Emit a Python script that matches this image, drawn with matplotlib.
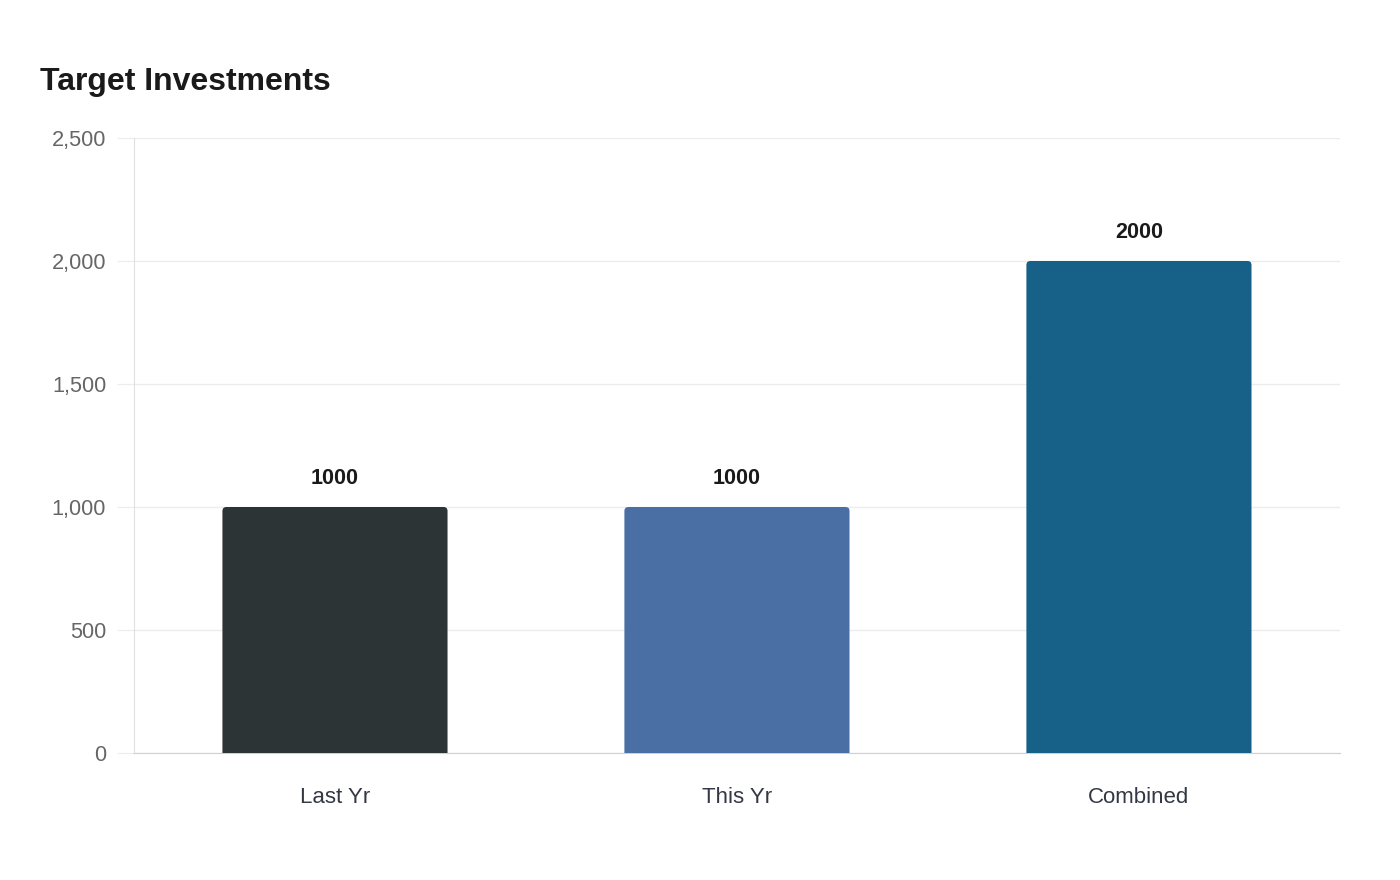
import matplotlib
matplotlib.use("Agg")
import matplotlib.pyplot as plt
from matplotlib.patches import PathPatch
from matplotlib.path import Path
from matplotlib.ticker import FuncFormatter

plt.rcParams['font.family'] = ['Liberation Sans', 'DejaVu Sans']

# data
categories = ['Last Yr', 'This Yr', 'Combined']
values = [1000, 1000, 2000]
colors = ['#2d3436', '#4a6fa5', '#176087']

fig = plt.figure(figsize=(14, 8.8), dpi=100)
ax = fig.add_axes([0.0957, 0.1443, 0.8614, 0.6989])

x = list(range(len(categories)))
bar_w = 0.56
bars = ax.bar(x, values, width=bar_w, color=colors, zorder=3)

ax.set_xlim(-0.5, len(categories) - 0.5)
ax.set_ylim(0, 2500)
ax.set_yticks([0, 500, 1000, 1500, 2000, 2500])
ax.yaxis.set_major_formatter(FuncFormatter(lambda v, p: f"{int(v):,}"))
ax.set_xticks(x)
ax.set_xticklabels(categories)

# rounded top corners: replace the plain rectangles
fig.canvas.draw()
px_x = (ax.get_xlim()[1] - ax.get_xlim()[0]) / ax.bbox.width
px_y = (ax.get_ylim()[1] - ax.get_ylim()[0]) / ax.bbox.height
rx, ry = 4 * px_x, 4 * px_y
for b in bars:
    x0, y0 = b.get_x(), b.get_y()
    x1, y1 = x0 + b.get_width(), y0 + b.get_height()
    verts = [(x0, y0), (x0, y1 - ry), (x0, y1), (x0 + rx, y1),
             (x1 - rx, y1), (x1, y1), (x1, y1 - ry), (x1, y0), (x0, y0)]
    codes = [Path.MOVETO, Path.LINETO, Path.CURVE3, Path.CURVE3,
             Path.LINETO, Path.CURVE3, Path.CURVE3, Path.LINETO, Path.CLOSEPOLY]
    ax.add_patch(PathPatch(Path(verts, codes), facecolor=b.get_facecolor(),
                           edgecolor='none', zorder=3))
    b.remove()

for xi, v in zip(x, values):
    ax.annotate(str(v), (xi, v), xytext=(0, 20.5), textcoords='offset points',
                ha='center', va='center', fontsize=15.5, fontweight='bold',
                color='#1a1a1a')

ax.grid(axis='y', color='#ececec', linewidth=1, zorder=0)
for s in ['top', 'right']:
    ax.spines[s].set_visible(False)
ax.spines['left'].set_color('#e0e0e0')
ax.spines['bottom'].set_color('#d0d0d0')
ax.tick_params(axis='y', length=12, color='#ececec', labelsize=15.7,
               labelcolor='#666666', pad=8)
ax.tick_params(axis='x', length=0, labelsize=16, labelcolor='#333844', pad=24.5)

fig.text(40 / 1400, 1 - 82 / 880, 'Target Investments', fontsize=23,
         fontweight='bold', color='#1a1a1a', va='center', ha='left')

fig.savefig('out.png', dpi=100, facecolor='white')
